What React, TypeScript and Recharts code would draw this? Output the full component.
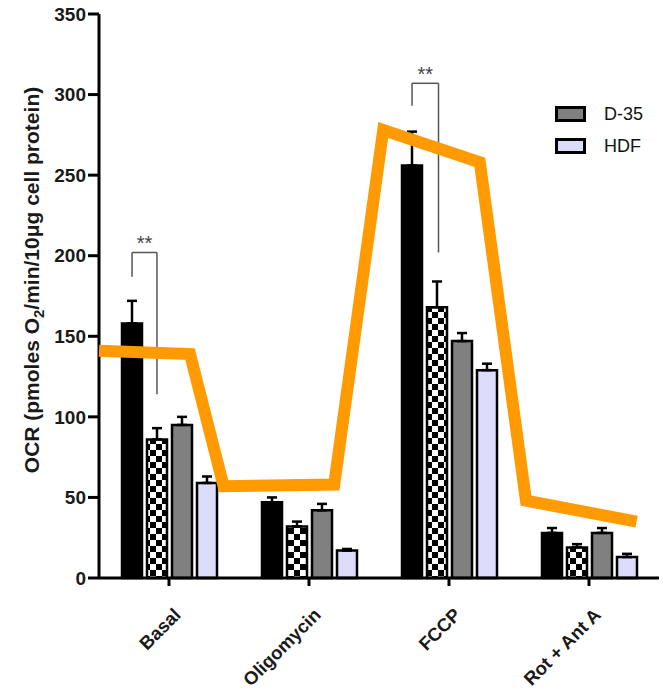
import React from 'react';
import { ComposedChart, Bar, XAxis, YAxis, ErrorBar, Scatter, ReferenceLine, Legend, Label } from 'recharts';

const categories = ['Basal', 'Oligomycin', 'FCCP', 'Rot + Ant A'];
const blackValues = [158, 47, 256, 28];
const blackErr = [14, 3, 21, 3];
const checkValues = [86, 32, 168, 19];
const checkErr = [7, 3, 16, 2];
const d35Values = [95, 42, 147, 28];
const d35Err = [5, 4, 5, 3];
const hdfValues = [59, 17, 129, 13];
const hdfErr = [4, 1, 4, 2];

const yTicks = [0, 50, 100, 150, 200, 250, 300, 350];

const orangeX = [0, 0.65, 0.89, 1.68, 2.03, 2.72, 3.05, 3.84];
const orangeY = [141, 139, 57, 58, 278, 258, 48, 35];

const legendNames = ['D-35', 'HDF'];
const legendColors = ['#808080', '#DDDDFB'];

// significance brackets
const bracketLeftX = [0.236, 2.236];
const bracketRightX = [0.414, 2.425];
const bracketTopY = [202, 307];
const bracketLeftBottomY = [187, 293];
const bracketRightBottomY = [114, 202];
const bracketText = ['**', '**'];

const FONT = '"Liberation Sans", Arial, Helvetica, sans-serif';
const ORANGE = '#FF9A00';

const data = categories.map((c, i) => ({
  name: c,
  black: blackValues[i],
  blackE: [0, blackErr[i]],
  check: checkValues[i],
  checkE: [0, checkErr[i]],
  d35: d35Values[i],
  d35E: [0, d35Err[i]],
  hdf: hdfValues[i],
  hdfE: [0, hdfErr[i]],
}));

const orangeData = orangeX.map((x, i) => ({ x, y: orangeY[i] }));

const XTick = (props: any) => {
  const { x, y, payload } = props;
  const ax = x + 13;
  const ay = y + 28;
  return (
    <text
      x={ax}
      y={ay}
      textAnchor="end"
      transform={`rotate(-45, ${ax}, ${ay})`}
      fontFamily={FONT}
      fontSize={18.5}
      fontWeight="bold"
      fill="#1a1a1a"
    >
      {payload.value}
    </text>
  );
};

const YLabel = () => (
  <text
    x={39}
    y={280}
    transform="rotate(-90, 39, 280)"
    textAnchor="middle"
    fontFamily={FONT}
    fontSize={21}
    fontWeight="bold"
    fill="#1a1a1a"
  >
    OCR (pmoles O<tspan fontSize={15} dy={5}>2</tspan>
    <tspan dy={-5}>/min/10μg cell protein)</tspan>
  </text>
);

const renderLegend = () => (
  <div style={{ fontFamily: FONT }}>
    {legendNames.map((n, i) => (
      <div key={n} style={{ display: 'flex', alignItems: 'center', height: 32 }}>
        <div
          style={{
            width: 25,
            height: 10,
            border: '3px solid #000',
            background: legendColors[i],
            boxSizing: 'content-box',
          }}
        />
        <span style={{ marginLeft: 18, fontSize: 18, color: '#111' }}>{n}</span>
      </div>
    ))}
  </div>
);

const NoShape = () => <g />;

export default function App() {
  return (
    <div style={{ position: 'absolute', left: 0, top: 0, width: 663, height: 695, background: '#fff' }}>
      <svg width={0} height={0} style={{ position: 'absolute' }}>
        <defs>
          <pattern id="checker" patternUnits="userSpaceOnUse" width={12} height={12}>
            <rect x={0} y={0} width={12} height={12} fill="#fff" />
            <rect x={0} y={0} width={6} height={6} fill="#000" />
            <rect x={6} y={6} width={6} height={6} fill="#000" />
          </pattern>
        </defs>
      </svg>
      <ComposedChart
        width={663}
        height={695}
        data={data}
        margin={{ top: 14, right: 4, bottom: 17, left: 0 }}
        barSize={20}
        barGap={5}
      >
        <XAxis
          xAxisId="cat"
          dataKey="name"
          height={100}
          interval={0}
          axisLine={{ stroke: '#000', strokeWidth: 3 }}
          tickLine={{ stroke: '#000', strokeWidth: 3 }}
          tickSize={8}
          tick={<XTick />}
        />
        <XAxis xAxisId="num" type="number" dataKey="x" domain={[0, 4]} hide />
        <YAxis
          width={99}
          domain={[0, 350]}
          ticks={yTicks}
          interval={0}
          axisLine={{ stroke: '#000', strokeWidth: 3 }}
          tickLine={{ stroke: '#000', strokeWidth: 3 }}
          tickSize={11}
          tickMargin={2}
          tick={{ fontFamily: FONT, fontSize: 19, fontWeight: 'bold', fill: '#1a1a1a' }}
          label={<Label content={<YLabel />} />}
        />
        <Bar xAxisId="cat" dataKey="black" fill="#000" stroke="#000" strokeWidth={2.5} isAnimationActive={false}>
          <ErrorBar dataKey="blackE" direction="y" width={5} stroke="#000" strokeWidth={2.5} />
        </Bar>
        <Bar xAxisId="cat" dataKey="check" fill="url(#checker)" stroke="#000" strokeWidth={2.5} isAnimationActive={false}>
          <ErrorBar dataKey="checkE" direction="y" width={5} stroke="#000" strokeWidth={2.5} />
        </Bar>
        <Bar xAxisId="cat" dataKey="d35" name="D-35" fill="#808080" stroke="#000" strokeWidth={2.5} isAnimationActive={false}>
          <ErrorBar dataKey="d35E" direction="y" width={5} stroke="#000" strokeWidth={2.5} />
        </Bar>
        <Bar xAxisId="cat" dataKey="hdf" name="HDF" fill="#DDDDFB" stroke="#000" strokeWidth={2.5} isAnimationActive={false}>
          <ErrorBar dataKey="hdfE" direction="y" width={5} stroke="#000" strokeWidth={2.5} />
        </Bar>
        {bracketLeftX.map((lx, i) => (
          <ReferenceLine
            key={`bl${i}`}
            xAxisId="num"
            ifOverflow="visible"
            stroke="#555"
            strokeWidth={1.5}
            segment={[{ x: lx, y: bracketLeftBottomY[i] }, { x: lx, y: bracketTopY[i] }]}
          />
        ))}
        {bracketLeftX.map((lx, i) => (
          <ReferenceLine
            key={`bt${i}`}
            xAxisId="num"
            ifOverflow="visible"
            stroke="#555"
            strokeWidth={1.5}
            segment={[{ x: lx, y: bracketTopY[i] }, { x: bracketRightX[i], y: bracketTopY[i] }]}
            label={{ value: bracketText[i], position: 'top', offset: 2, fill: '#444', fontSize: 20, fontFamily: FONT }}
          />
        ))}
        {bracketRightX.map((rx, i) => (
          <ReferenceLine
            key={`br${i}`}
            xAxisId="num"
            ifOverflow="visible"
            stroke="#555"
            strokeWidth={1.5}
            segment={[{ x: rx, y: bracketTopY[i] }, { x: rx, y: bracketRightBottomY[i] }]}
          />
        ))}
        <Scatter
          xAxisId="num"
          data={orangeData}
          dataKey="y"
          line={{ stroke: ORANGE, strokeWidth: 12 }}
          shape={<NoShape />}
          legendType="none"
          isAnimationActive={false}
        />
        <Legend
          layout="vertical"
          align="center"
          verticalAlign="middle"
          content={renderLegend}
          wrapperStyle={{ position: 'absolute', left: 555, top: 98, width: 108, height: 'auto' }}
        />
      </ComposedChart>
    </div>
  );
}
